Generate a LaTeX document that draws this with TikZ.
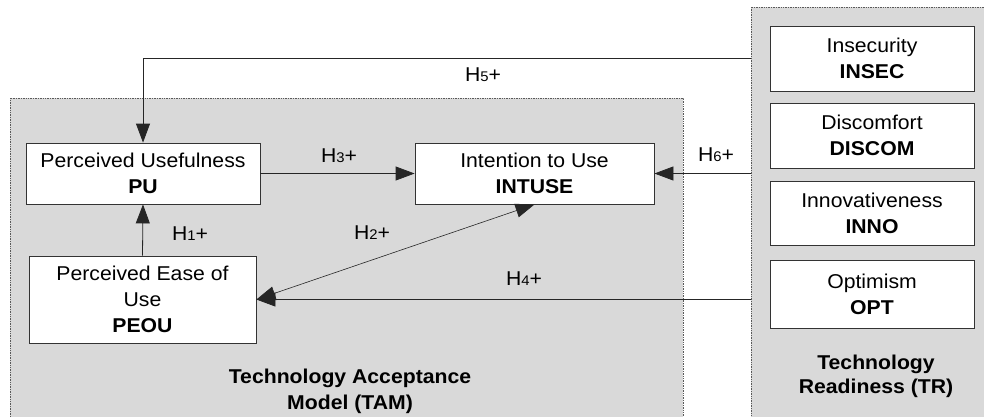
\documentclass[tikz,border=0pt]{standalone}
\usepackage{fontspec}
\setmainfont{Liberation Sans}[FakeStretch=1.06]
\usetikzlibrary{arrows.meta}
\definecolor{panelgray}{HTML}{D9D9D9}
\definecolor{edgegray}{HTML}{5A5A5A}
\newcommand{\hyplabel}[1]{H{\fontsize{14}{14}\selectfont #1}+}

\begin{document}
\begin{tikzpicture}[x=1pt, y=-1pt,
    every node/.style={font=\fontsize{20}{26}\selectfont, align=center, inner sep=0pt},
    panel/.style={fill=panelgray, draw=edgegray, densely dotted, line width=0.7pt},
    construct/.style={fill=white, draw=black!80, line width=0.8pt, minimum height=61pt},
    trfactor/.style={construct, minimum width=204pt, minimum height=65pt},
    link/.style={draw=black!85, line width=0.8pt, -{Triangle[length=19pt, width=14pt]}},
    biglink/.style={link, {Triangle[length=19pt, width=14pt]}-{Triangle[length=19pt, width=14pt]}, line width=0.6pt}]
  \useasboundingbox (0,0) rectangle (984,416);

  % panels
  \node[panel, minimum width=673pt, minimum height=330pt] (tam) at (346.5,263) {};
  \node[panel, minimum width=244pt, minimum height=420pt] (tr) at (873,217) {};
  \node[font=\bfseries\fontsize{20}{26}\selectfont] (tamtitle) at (350,391) {Technology Acceptance\\Model (TAM)};
  \node[font=\bfseries\fontsize{20}{24}\selectfont] (trtitle) at (876,376) {Technology\\Readiness (TR)};

  % TAM constructs
  \node[construct, minimum width=234pt] (pu) at (143,173.5) {Perceived Usefulness\\\textbf{PU}};
  \node[construct, minimum width=239pt] (intuse) at (534.5,173.5) {Intention to Use\\\textbf{INTUSE}};
  \node[construct, minimum width=227pt, minimum height=87pt] (peou) at (142.5,299.5) {Perceived Ease of\\Use\\\textbf{PEOU}};

  % TR dimensions
  \node[trfactor] (insec) at (872,58.5) {Insecurity\\\textbf{INSEC}};
  \node[trfactor] (discom) at (872,135.5) {Discomfort\\\textbf{DISCOM}};
  \node[trfactor, minimum height=64pt] (inno) at (872,213) {Innovativeness\\\textbf{INNO}};
  \node[trfactor, minimum height=68pt] (opt) at (872,294) {Optimism\\\textbf{OPT}};

  % hypotheses
  \draw[link] (insec -| tr.west) -| (pu.north);
  \draw[link] (pu.east) -- (intuse.west);
  \draw[link] (peou.north) -- (pu.south);
  \draw[link] (intuse -| tr.west) -- (intuse.east);
  \draw[link] (peou -| tr.west) -- (peou.east);
  \draw[biglink] (peou.east) -- (intuse.south);

  \node (h1) at (190,234) {\hyplabel{1}};
  \node (h2) at (372,233) {\hyplabel{2}};
  \node (h3) at (339,156) {\hyplabel{3}};
  \node (h4) at (524,279) {\hyplabel{4}};
  \node (h5) at (483,75) {\hyplabel{5}};
  \node (h6) at (716,155) {\hyplabel{6}};
\end{tikzpicture}
\end{document}
